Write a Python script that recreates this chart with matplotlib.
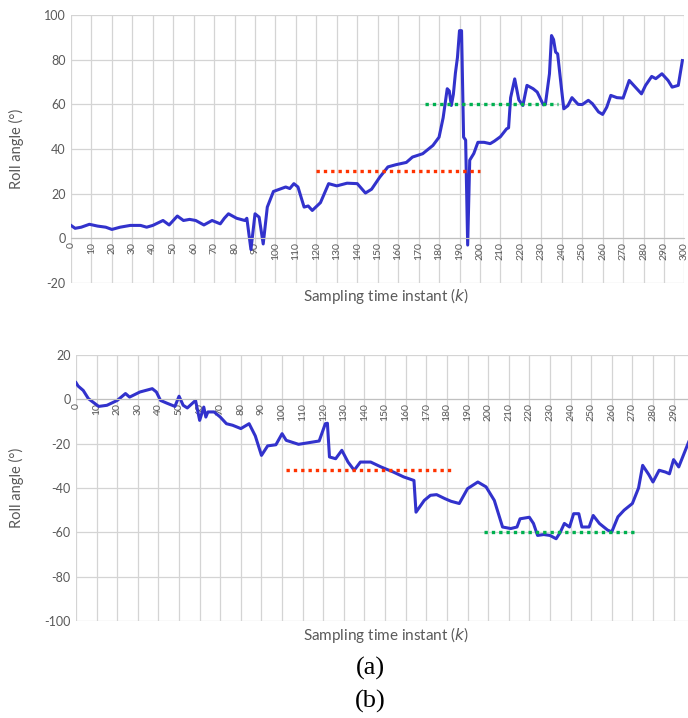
import matplotlib
matplotlib.use("Agg")
import matplotlib.pyplot as plt
import numpy as np

# (a) roll angle
top_k = [0, 2, 5, 9, 13, 17, 20, 24, 29, 34, 37, 40, 45, 48, 52, 55, 58, 61, 65, 69,
         73, 75, 77, 81, 85, 86, 88, 90, 92, 94, 96, 99, 102, 105, 107, 109, 111, 114, 116, 118,
         122, 126, 130, 135, 140, 144, 147, 151, 155, 159, 164, 167, 172, 177, 180, 182, 184, 185, 186, 187,
         188, 189, 190, 191, 192, 193, 194, 195, 197, 199, 202, 205, 207, 210, 213, 214, 215, 217, 219, 221,
         223, 226, 228, 231, 232, 234, 235, 236, 237, 238, 240, 241, 243, 245, 248, 250, 253, 255, 258, 260,
         262, 264, 267, 270, 273, 276, 279, 281, 284, 286, 289, 292, 294, 297, 299]
top_roll = [5.8, 4.5, 5.0, 6.3, 5.5, 5.0, 4.0, 5.0, 5.8, 5.8, 5.0, 5.8, 8.0, 6.0, 10.0, 8.0, 8.5, 8.0, 6.0, 8.0,
            6.5, 9.0, 11.0, 9.0, 8.0, 9.0, -5.0, 11.0, 9.5, -2.5, 14.0, 21.0, 22.0, 23.0, 22.3, 24.5, 23.0, 14.0, 14.5, 12.5,
            16.0, 24.5, 23.5, 24.7, 24.5, 20.3, 22.0, 27.4, 32.0, 33.0, 34.0, 36.4, 37.9, 41.6, 45.3, 54.0, 67.0, 66.0, 59.5, 64.5,
            74.0, 81.0, 93.0, 93.0, 45.3, 44.0, -3.0, 35.0, 38.0, 43.0, 43.0, 42.4, 43.5, 45.5, 49.0, 49.5, 63.0, 71.4, 62.0, 59.5,
            68.5, 67.0, 65.5, 59.8, 60.0, 73.7, 90.8, 89.0, 83.4, 82.6, 66.0, 58.0, 59.4, 63.0, 60.0, 59.9, 61.8, 60.3, 56.6, 55.5,
            58.7, 64.0, 63.0, 62.8, 70.7, 67.7, 64.7, 68.5, 72.5, 71.5, 73.7, 70.7, 67.7, 68.5, 79.6]

# (b) roll angle
bot_k = [0, 1, 3.5, 6, 11, 15, 20, 24, 26, 31, 37, 39, 41, 44, 48, 50, 52, 54, 58, 60,
         62, 63, 64, 67, 70, 73, 76, 80, 84, 87, 90, 93, 97, 100, 102, 108, 114, 118, 121, 122,
         123, 126, 129, 132, 135, 138, 143, 148, 154, 159, 164, 165, 169, 172, 175, 179, 182, 186, 190, 195,
         199, 203, 207, 211, 214, 215.5, 220, 222, 224, 227, 230, 233, 235, 237, 239.5, 241.5, 244, 245.5, 249, 251,
         254, 258, 260, 263, 266, 270, 273, 275, 278, 280, 283, 286, 288, 290, 292.5, 297.3]
bot_roll = [7.5, 6.0, 4.0, 0.3, -3.2, -2.7, -0.5, 2.6, 1.0, 3.3, 4.8, 3.3, -0.5, -1.7, -3.2, 1.4, -2.7, -3.9, -0.5, -9.5,
            -3.5, -8.0, -5.7, -5.7, -8.0, -11.0, -11.7, -13.2, -11.0, -16.5, -25.3, -21.0, -20.5, -15.5, -18.5, -20.3, -19.4, -18.8, -11.0, -10.8,
            -26.0, -26.8, -23.0, -28.3, -32.0, -28.3, -28.3, -30.5, -32.8, -35.0, -36.6, -50.9, -45.6, -43.3, -43.0, -44.8, -46.0, -47.0, -40.3, -37.3,
            -39.5, -45.6, -57.6, -58.3, -57.6, -53.9, -53.2, -56.0, -61.4, -61.0, -61.4, -62.9, -60.0, -56.0, -57.6, -51.6, -51.6, -57.6, -57.6, -52.4,
            -56.0, -59.0, -59.8, -53.0, -50.0, -47.0, -40.0, -29.8, -34.0, -37.3, -32.0, -32.8, -33.6, -27.2, -30.5, -19.3]

# reference levels: ([start, end], [level, level])
top_red = ([120, 200], [30, 30])
top_green = ([173, 238], [60, 60])
bot_red = ([102, 182], [-32, -32])
bot_green = ([198, 272], [-60, -60])

LINE = "#3232cc"
GRID = "#d4d4d4"
TXT = "#595959"
TICKFONT = "Lato"


def style_axes(ax, xmax, ymin, ymax, xticks, ylabel_x):
    # spine position first: moving it resets the tick labels
    ax.spines["bottom"].set_position(("data", 0))
    ax.spines["bottom"].set_color("#c0c0c0")
    for s in ("top", "right", "left"):
        ax.spines[s].set_visible(False)
    ax.set_xlim(0, xmax)
    ax.set_ylim(ymin, ymax)
    ax.set_xticks(xticks)
    ax.set_xticklabels([str(t) for t in xticks], rotation=90, fontsize=7.5,
                       color=TXT, family=TICKFONT, va="top", ha="center")
    yt = np.arange(ymin, ymax + 1, 20)
    ax.set_yticks(yt)
    ax.set_yticklabels([str(t) for t in yt], fontsize=9, color=TXT, family=TICKFONT)
    ax.tick_params(length=0, pad=4)
    ax.tick_params(axis="x", pad=3)
    ax.grid(True, color=GRID, lw=0.9)
    ax.set_axisbelow(True)
    ax.set_ylabel("Roll angle (°)", fontsize=10.5, color=TXT, family=TICKFONT)
    ax.yaxis.set_label_coords(ylabel_x, 0.5)


fig = plt.figure(figsize=(6.88, 7.18), dpi=100)

ax1 = fig.add_axes([0.1032, 0.6058, 0.8916, 0.3733])
style_axes(ax1, 300, -20, 100, list(range(0, 301, 10)), -0.077)
ax1.plot(top_k, top_roll, color=LINE, lw=2.2, solid_joinstyle="round")
ax1.plot(*top_red, color="#ff3300", lw=2.4, ls=(0, (1, 1.2)))
ax1.plot(*top_green, color="#00b050", lw=2.4, ls=(0, (1, 1.2)))
fig.text(0.561, 1 - 296 / 718, "Sampling time instant ($\\it{k}$)", ha="center",
         va="center", fontsize=11, color=TXT, family=TICKFONT)

ax2 = fig.add_axes([0.1105, 0.1351, 0.8895, 0.3705])
style_axes(ax2, 297, -100, 20, list(range(0, 291, 10)), -0.085)
ax2.plot(bot_k, bot_roll, color=LINE, lw=2.2, solid_joinstyle="round")
ax2.plot(*bot_red, color="#ff3300", lw=2.4, ls=(0, (1, 1.2)))
ax2.plot(*bot_green, color="#00b050", lw=2.4, ls=(0, (1, 1.2)))
fig.text(0.561, 1 - 635 / 718, "Sampling time instant ($\\it{k}$)", ha="center",
         va="center", fontsize=11, color=TXT, family=TICKFONT)

fig.text(0.538, 1 - 668 / 718, "(a)", ha="center", va="center", fontsize=19,
         family="Liberation Serif")
fig.text(0.538, 1 - 701 / 718, "(b)", ha="center", va="center", fontsize=19,
         family="Liberation Serif")

fig.savefig("out.png", dpi=100)
